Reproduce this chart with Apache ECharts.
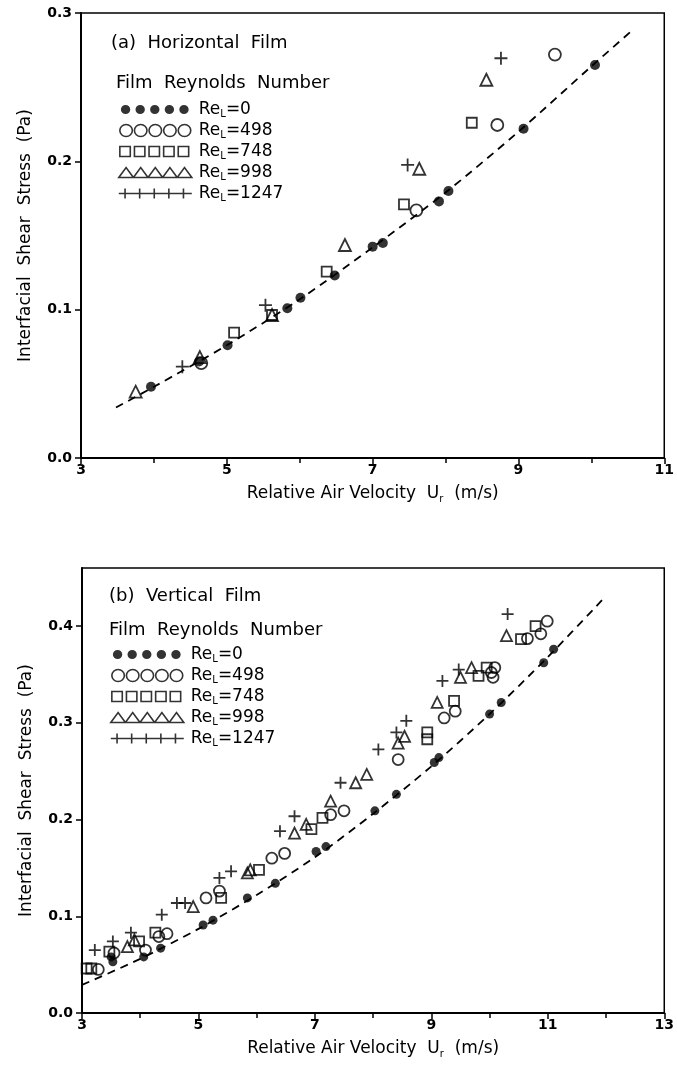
<!DOCTYPE html>
<html>
<head>
<meta charset="utf-8">
<script src="https://cdn.jsdelivr.net/npm/echarts@6/dist/echarts.min.js"></script>
<style>
  html, body { margin: 0; padding: 0; background: #fff; }
  #chart { width: 677px; height: 1069px; }
</style>
</head>
<body>
<div id="chart"></div>
<script>
// ---- (a) horizontal film ----
var fitA = [[3.48, 0.034], [4, 0.048], [5, 0.076], [6, 0.107], [7, 0.142], [8, 0.179], [9, 0.22], [10, 0.264], [10.53, 0.287]];
var a0 = [[3.96, 0.048], [4.62, 0.065], [5.01, 0.076], [5.83, 0.101], [6.01, 0.108], [6.48, 0.123], [7.0, 0.1425], [7.14, 0.145], [7.91, 0.173], [8.04, 0.180], [9.07, 0.222], [10.05, 0.265]];
var a498 = [[4.65, 0.064], [7.6, 0.167], [8.71, 0.2245], [9.5, 0.272]];
var a748 = [[5.10, 0.0845], [5.62, 0.0964], [6.37, 0.1257], [7.43, 0.171], [8.36, 0.226]];
var a998 = [[3.75, 0.0447], [4.63, 0.068], [5.62, 0.0964], [6.62, 0.1436], [7.64, 0.195], [8.56, 0.255]];
var a1247 = [[4.39, 0.0616], [5.53, 0.103], [7.48, 0.1976], [8.76, 0.2695]];

// ---- (b) vertical film ----
var fitB = [[3, 0.029], [4, 0.056], [5, 0.087], [6, 0.122], [7, 0.161], [8, 0.206], [9, 0.255], [10, 0.309], [11, 0.368], [11.95, 0.428]];
var b0 = [[3.53, 0.053], [3.5, 0.058], [4.06, 0.058], [4.35, 0.067], [5.08, 0.091], [5.25, 0.096], [5.84, 0.119], [6.32, 0.134], [7.02, 0.167], [7.19, 0.172], [8.03, 0.209], [8.40, 0.226], [9.05, 0.259], [9.13, 0.264], [10.0, 0.309], [10.2, 0.321], [10.93, 0.362], [11.1, 0.376]];
var b498 = [[3.28, 0.045], [3.55, 0.062], [4.09, 0.065], [4.32, 0.079], [4.46, 0.082], [5.13, 0.119], [5.36, 0.126], [6.26, 0.160], [6.48, 0.165], [7.27, 0.205], [7.50, 0.209], [8.43, 0.262], [9.22, 0.305], [9.41, 0.312], [10.03, 0.352], [10.06, 0.347], [10.09, 0.357], [10.65, 0.387], [10.88, 0.392], [10.99, 0.405]];
var b748 = [[3.08, 0.046], [3.16, 0.046], [3.47, 0.0635], [3.98, 0.074], [4.26, 0.083], [5.39, 0.119], [6.04, 0.148], [6.94, 0.19], [7.13, 0.2017], [8.93, 0.283], [8.93, 0.29], [9.39, 0.3226], [9.81, 0.3485], [9.95, 0.357], [10.54, 0.3865], [10.79, 0.40]];
var b998 = [[3.78, 0.0687], [3.90, 0.0756], [4.91, 0.110], [5.84, 0.1448], [5.89, 0.148], [6.65, 0.186], [6.85, 0.195], [7.27, 0.219], [7.70, 0.238], [7.89, 0.2466], [8.43, 0.279], [8.54, 0.286], [9.10, 0.321], [9.50, 0.347], [9.69, 0.357], [10.29, 0.39]];
var b1247 = [[3.22, 0.065], [3.53, 0.074], [3.84, 0.083], [4.37, 0.1016], [4.63, 0.1137], [4.77, 0.1137], [5.36, 0.1396], [5.56, 0.1464], [6.40, 0.188], [6.65, 0.2034], [7.44, 0.238], [8.09, 0.2725], [8.40, 0.29], [8.57, 0.302], [9.19, 0.3433], [9.47, 0.355], [10.31, 0.4124]];

var font = 'DejaVu Sans';
var chart = echarts.init(document.getElementById('chart'));

var plusPath = 'path://M0,5L10,5M5,0L5,10';
// legend icons: five marks in a row, all in a 70x12 box
var iconDots = 'path://M2,6a4.5,4.5 0 1,0 9,0a4.5,4.5 0 1,0 -9,0M16,6a4.5,4.5 0 1,0 9,0a4.5,4.5 0 1,0 -9,0M30,6a4.5,4.5 0 1,0 9,0a4.5,4.5 0 1,0 -9,0M44,6a4.5,4.5 0 1,0 9,0a4.5,4.5 0 1,0 -9,0M58,6a4.5,4.5 0 1,0 9,0a4.5,4.5 0 1,0 -9,0M0,0h0M70,12h0';
var iconRings = 'path://M1,6a6,6 0 1,0 12,0a6,6 0 1,0 -12,0M15,6a6,6 0 1,0 12,0a6,6 0 1,0 -12,0M29,6a6,6 0 1,0 12,0a6,6 0 1,0 -12,0M43,6a6,6 0 1,0 12,0a6,6 0 1,0 -12,0M57,6a6,6 0 1,0 12,0a6,6 0 1,0 -12,0M0,0h0M70,12h0';
var iconSquares = 'path://M1,1h10v10h-10ZM15,1h10v10h-10ZM29,1h10v10h-10ZM43,1h10v10h-10ZM57,1h10v10h-10ZM0,0h0M70,12h0';
var iconTris = 'path://M0,11L7,1L14,11ZM14,11L21,1L28,11ZM28,11L35,1L42,11ZM42,11L49,1L56,11ZM56,11L63,1L70,11ZM0,0h0M70,12h0';
var iconPlus = 'path://M0,6h70M6,1v10M20,1v10M34,1v10M48,1v10M62,1v10M0,0h0M70,12h0';

var openStyle = {color: 'rgba(0,0,0,0)', borderColor: '#000', borderWidth: 1.8};
var fillStyle = {color: '#000', borderWidth: 0};
var iconOpen = {color: 'rgba(0,0,0,0)', borderColor: '#000', borderWidth: 1.6};

function legendFor(left, top) {
    return {
        orient: 'vertical', left: left, top: top,
        itemWidth: 73, itemHeight: 12, itemGap: 2.5,
        symbolKeepAspect: false,
        selectedMode: false,
        formatter: function (n) { return '{r|Re}{s|L}{r|=' + n + '}'; },
        textStyle: {
            fontFamily: font, color: '#000', padding: [0, 0, 0, 2],
            rich: {
                r: {fontFamily: font, fontSize: 17, lineHeight: 20, color: '#000'},
                s: {fontFamily: font, fontSize: 10, lineHeight: 11, verticalAlign: 'bottom', color: '#000'}
            }
        },
        data: [
            {name: '0', icon: iconDots, itemStyle: fillStyle},
            {name: '498', icon: iconRings, itemStyle: iconOpen},
            {name: '748', icon: iconSquares, itemStyle: iconOpen},
            {name: '998', icon: iconTris, itemStyle: iconOpen},
            {name: '1247', icon: iconPlus, itemStyle: iconOpen}
        ]
    };
}

function xAx(idx, max) {
    return {
        gridIndex: idx, type: 'value', min: 3, max: max, interval: 2,
        name: '{n|Relative Air Velocity  U}{s|r}{n|  (m/s)}',
        nameLocation: 'middle', nameGap: 26,
        nameTextStyle: {
            rich: {
                n: {fontFamily: font, fontSize: 17, color: '#000', lineHeight: 20},
                s: {fontFamily: font, fontSize: 10, color: '#000', lineHeight: 11, verticalAlign: 'bottom'}
            }
        },
        axisLine: {lineStyle: {color: '#000', width: 2}},
        axisTick: {length: 6, lineStyle: {color: '#000', width: 1.5}},
        minorTick: {show: true, splitNumber: 2, length: 5, lineStyle: {color: '#000', width: 1.5}},
        axisLabel: {fontFamily: font, fontSize: 14, fontWeight: 'bold', color: '#000', margin: 5},
        splitLine: {show: false}
    };
}

function yAx(idx, max) {
    return {
        gridIndex: idx, type: 'value', min: 0, max: max, interval: 0.1,
        name: 'Interfacial  Shear  Stress  (Pa)',
        nameLocation: 'middle', nameGap: 47,
        nameTextStyle: {fontFamily: font, fontSize: 17, color: '#000'},
        axisLine: {lineStyle: {color: '#000', width: 2}},
        axisTick: {length: 6, lineStyle: {color: '#000', width: 1.5}},
        axisLabel: {
            fontFamily: font, fontSize: 14, fontWeight: 'bold', color: '#000', margin: 9,
            showMaxLabel: max === 0.3 ? true : false,
            formatter: function (v) { return v.toFixed(1); }
        },
        splitLine: {show: false}
    };
}

function scatter(name, idx, data, symbol, size, style) {
    return {
        name: name, type: 'scatter', xAxisIndex: idx, yAxisIndex: idx,
        data: data, symbol: symbol, symbolSize: size, itemStyle: style,
        z: 3, silent: true
    };
}

function fit(idx, data) {
    return {
        type: 'line', xAxisIndex: idx, yAxisIndex: idx, data: data,
        smooth: 0.3, showSymbol: false, silent: true, z: 2,
        lineStyle: {color: '#000', width: 1.8, type: [8, 6]}
    };
}

var plusStyle = {color: 'rgba(0,0,0,0)', borderColor: '#000', borderWidth: 1.8};

chart.setOption({
    animation: false,
    backgroundColor: '#fff',
    title: [
        {text: '(a)  Horizontal  Film', left: 106, top: 29, textStyle: {fontFamily: font, fontSize: 18, fontWeight: 'normal', color: '#000'}},
        {text: 'Film  Reynolds  Number', left: 111, top: 69, textStyle: {fontFamily: font, fontSize: 18, fontWeight: 'normal', color: '#000'}},
        {text: '(b)  Vertical  Film', left: 104, top: 582, textStyle: {fontFamily: font, fontSize: 18, fontWeight: 'normal', color: '#000'}},
        {text: 'Film  Reynolds  Number', left: 104, top: 616, textStyle: {fontFamily: font, fontSize: 18, fontWeight: 'normal', color: '#000'}}
    ],
    legend: [legendFor(113, 96), legendFor(105, 641)],
    grid: [
        {left: 81, right: 9, top: 13, height: 445, show: true, borderColor: '#000', borderWidth: 1.5, backgroundColor: 'transparent'},
        {left: 82, right: 3, top: 568, height: 445, show: true, borderColor: '#000', borderWidth: 1.5, backgroundColor: 'transparent'}
    ],
    xAxis: [xAx(0, 11), xAx(1, 13)],
    yAxis: [yAx(0, 0.3), yAx(1, 0.46)],
    series: [
        fit(0, fitA),
        scatter('0', 0, a0, 'circle', 10, fillStyle),
        scatter('498', 0, a498, 'circle', 12, openStyle),
        scatter('748', 0, a748, 'rect', 10, openStyle),
        scatter('998', 0, a998, 'triangle', 12, openStyle),
        scatter('1247', 0, a1247, plusPath, 13, plusStyle),
        fit(1, fitB),
        scatter('0', 1, b0, 'circle', 9, fillStyle),
        scatter('498', 1, b498, 'circle', 11, openStyle),
        scatter('748', 1, b748, 'rect', 10, openStyle),
        scatter('998', 1, b998, 'triangle', 11, openStyle),
        scatter('1247', 1, b1247, plusPath, 12, plusStyle)
    ]
});
</script>
</body>
</html>
